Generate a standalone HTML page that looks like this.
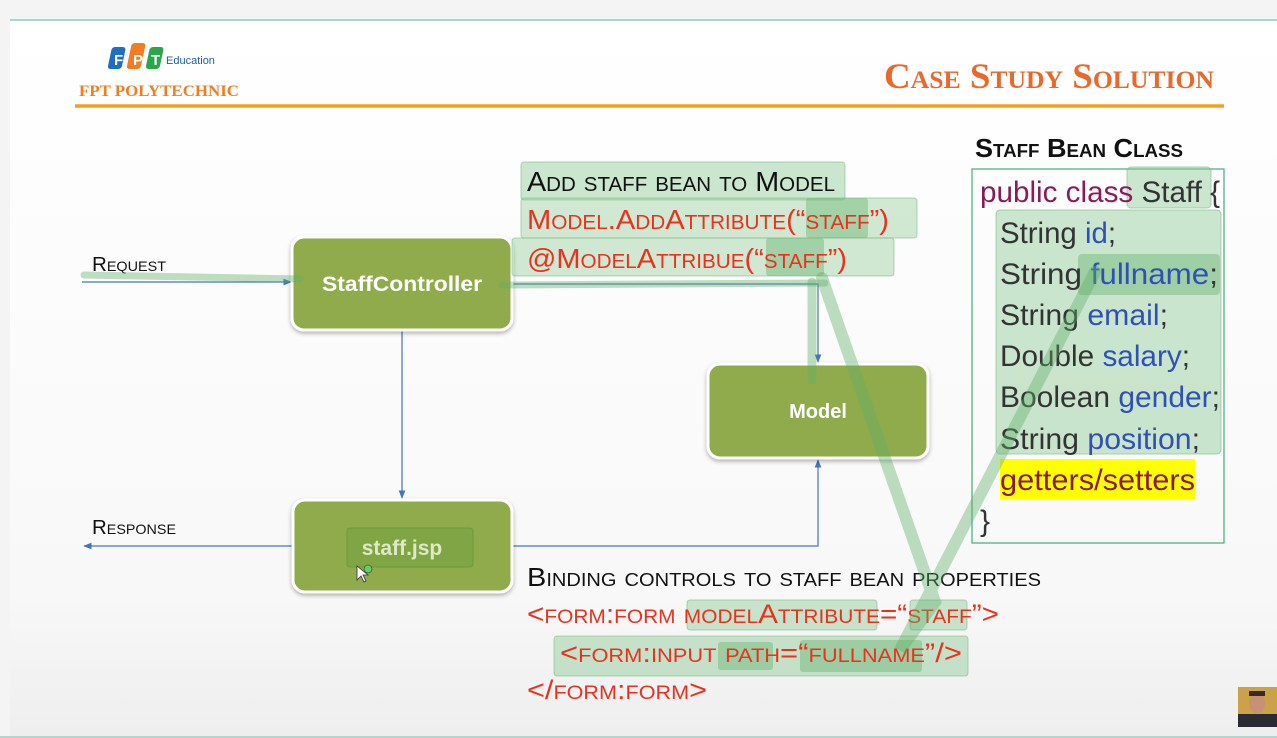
<!DOCTYPE html>
<html><head><meta charset="utf-8"><style>
html,body{margin:0;padding:0;background:#f4f4f4;}
svg{display:block;}
.sc{font-variant:small-caps;}
</style></head><body>
<svg width="1277" height="738" viewBox="0 0 1277 738" xmlns="http://www.w3.org/2000/svg" font-family="Liberation Sans, sans-serif">
<defs>
<linearGradient id="bg" x1="0" y1="0" x2="0" y2="1">
<stop offset="0" stop-color="#ffffff"/><stop offset="0.8" stop-color="#f8f8f8"/><stop offset="1" stop-color="#eeeeee"/>
</linearGradient>
<marker id="ar" viewBox="0 0 10 10" refX="9" refY="5" markerWidth="7" markerHeight="7" orient="auto"><path d="M0,1 L10,5 L0,9 z" fill="#4472c4"/></marker>
<filter id="sh" x="-10%" y="-10%" width="120%" height="130%"><feDropShadow dx="0" dy="2" stdDeviation="2" flood-color="#000" flood-opacity="0.3"/></filter>
</defs>
<rect x="0" y="0" width="1277" height="738" fill="#f4f4f4"/>
<rect x="10" y="20" width="1267" height="716" fill="url(#bg)"/>
<line x1="10" y1="20" x2="1277" y2="20" stroke="#8ccbc4" stroke-width="1.5"/>
<line x1="0" y1="737" x2="1277" y2="737" stroke="#b9d3cc" stroke-width="2"/>

<!-- logo -->
<g transform="skewX(-12)">
<rect x="122" y="47" width="14" height="22" rx="3" fill="#1f6fc0"/>
<rect x="141" y="43" width="14" height="26" rx="3" fill="#f07d22"/>
<rect x="160" y="47" width="14" height="22" rx="3" fill="#2aa54a"/>
</g>
<text x="114" y="65" font-size="15" font-weight="bold" fill="#fff">F</text>
<text x="133" y="65" font-size="15" font-weight="bold" fill="#fff">P</text>
<text x="151" y="65" font-size="15" font-weight="bold" fill="#fff">T</text>
<text x="166" y="64" font-size="11" fill="#1f5fa8">Education</text>
<text x="79" y="96" font-family="Liberation Serif, serif" font-size="16" font-weight="bold" fill="#f07d22" textLength="160" lengthAdjust="spacingAndGlyphs">FPT POLYTECHNIC</text>
<line x1="75" y1="106" x2="1224" y2="106" stroke="#f4a01c" stroke-width="3.5"/>
<text x="884" y="88" font-family="Liberation Serif, serif" font-weight="bold" font-size="36" fill="#e8692c" class="sc" textLength="330" lengthAdjust="spacingAndGlyphs">Case Study Solution</text>

<!-- blue connectors -->
<line x1="82" y1="282" x2="291" y2="282" stroke="#4472c4" stroke-width="1.2" marker-end="url(#ar)"/>
<line x1="292" y1="546" x2="84" y2="546" stroke="#4472c4" stroke-width="1.2" marker-end="url(#ar)"/>
<line x1="402" y1="331" x2="402" y2="498" stroke="#4472c4" stroke-width="1.2" marker-end="url(#ar)"/>
<polyline points="512,284 818,284 818,362" fill="none" stroke="#4472c4" stroke-width="1.2" marker-end="url(#ar)"/>
<polyline points="512,546 818,546 818,460" fill="none" stroke="#4472c4" stroke-width="1.2" marker-end="url(#ar)"/>

<!-- boxes -->
<g filter="url(#sh)">
<rect x="292" y="237" width="220" height="93" rx="12" fill="#8fab4b" stroke="#fff" stroke-width="3"/>
<rect x="708" y="364" width="220" height="94" rx="12" fill="#8fab4b" stroke="#fff" stroke-width="3"/>
<rect x="293" y="500" width="219" height="92" rx="12" fill="#8fab4b" stroke="#fff" stroke-width="3"/>
</g>
<text x="402" y="291" font-size="21" font-weight="bold" fill="#fff" text-anchor="middle" textLength="160" lengthAdjust="spacingAndGlyphs">StaffController</text>
<text x="818" y="418" font-size="20" font-weight="bold" fill="#fff" text-anchor="middle">Model</text>
<rect x="347" y="528" width="126" height="39" rx="3" fill="#7fa544" stroke="#6e9a3c" stroke-width="1"/>
<text x="402" y="555" font-size="21" font-weight="bold" fill="#dfe9c8" text-anchor="middle">staff.jsp</text>

<text x="92" y="271" font-size="20" fill="#111" class="sc" textLength="74" lengthAdjust="spacingAndGlyphs">Request</text>
<text x="92" y="534" font-size="20" fill="#111" class="sc" textLength="84" lengthAdjust="spacingAndGlyphs">Response</text>

<!-- top annotation -->
<rect x="521" y="162" width="324" height="38" rx="3" fill="#8fca94" fill-opacity="0.45" stroke="#7cbb84" stroke-opacity="0.6"/>
<rect x="521" y="198" width="396" height="40" rx="3" fill="#8fca94" fill-opacity="0.4" stroke="#7cbb84" stroke-opacity="0.6"/>
<rect x="512" y="238" width="382" height="38" rx="3" fill="#8fca94" fill-opacity="0.4" stroke="#7cbb84" stroke-opacity="0.6"/>
<rect x="806" y="198" width="62" height="40" rx="3" fill="#5fae66" fill-opacity="0.4"/>
<rect x="766" y="238" width="58" height="38" rx="3" fill="#5fae66" fill-opacity="0.4"/>
<text x="527" y="191" font-size="28" fill="#111" class="sc" textLength="308" lengthAdjust="spacingAndGlyphs">Add staff bean to Model</text>
<text x="527" y="229" font-size="28" fill="#e8321e" class="sc" textLength="362" lengthAdjust="spacingAndGlyphs">Model.AddAttribute(“staff”)</text>
<text x="527" y="268" font-size="28" fill="#e8321e" class="sc" textLength="320" lengthAdjust="spacingAndGlyphs">@ModelAttribue(“staff”)</text>

<!-- bean class -->
<text x="975" y="157" font-size="26" font-weight="bold" fill="#111" class="sc" textLength="208" lengthAdjust="spacingAndGlyphs">Staff Bean Class</text>
<rect x="972" y="169" width="252" height="374" fill="none" stroke="#3fae7a" stroke-width="1.2"/>
<rect x="1127" y="167" width="84" height="41" rx="4" fill="#8fca94" fill-opacity="0.45" stroke="#7cbb84" stroke-opacity="0.6"/>
<rect x="996" y="210" width="225" height="244" rx="4" fill="#8fca94" fill-opacity="0.45" stroke="#7cbb84" stroke-opacity="0.6"/>
<rect x="1078" y="254" width="142" height="41" rx="4" fill="#5fae66" fill-opacity="0.4"/>
<rect x="1000" y="459" width="195" height="40" fill="#ffff00"/>
<g font-size="30">
<text x="980" y="202" textLength="240" lengthAdjust="spacingAndGlyphs"><tspan fill="#8b1a5a">public class </tspan><tspan fill="#333">Staff {</tspan></text>
<text x="1000" y="243" textLength="116" lengthAdjust="spacingAndGlyphs"><tspan fill="#333">String </tspan><tspan fill="#3050b8">id</tspan><tspan fill="#333">;</tspan></text>
<text x="1000" y="284" textLength="218" lengthAdjust="spacingAndGlyphs"><tspan fill="#333">String </tspan><tspan fill="#3050b8">fullname</tspan><tspan fill="#333">;</tspan></text>
<text x="1000" y="325" textLength="168" lengthAdjust="spacingAndGlyphs"><tspan fill="#333">String </tspan><tspan fill="#3050b8">email</tspan><tspan fill="#333">;</tspan></text>
<text x="1000" y="366" textLength="190" lengthAdjust="spacingAndGlyphs"><tspan fill="#333">Double </tspan><tspan fill="#3050b8">salary</tspan><tspan fill="#333">;</tspan></text>
<text x="1000" y="407" textLength="220" lengthAdjust="spacingAndGlyphs"><tspan fill="#333">Boolean </tspan><tspan fill="#3050b8">gender</tspan><tspan fill="#333">;</tspan></text>
<text x="1000" y="449" textLength="200" lengthAdjust="spacingAndGlyphs"><tspan fill="#333">String </tspan><tspan fill="#3050b8">position</tspan><tspan fill="#333">;</tspan></text>
<text x="1000" y="490" fill="#8b1a3a" textLength="195" lengthAdjust="spacingAndGlyphs">getters/setters</text>
<text x="980" y="531" fill="#333">}</text>
</g>

<!-- bottom annotation -->
<rect x="687" y="600" width="190" height="30" rx="3" fill="#8fca94" fill-opacity="0.45" stroke="#7cbb84" stroke-opacity="0.6"/>
<rect x="910" y="600" width="57" height="30" rx="3" fill="#8fca94" fill-opacity="0.45" stroke="#7cbb84" stroke-opacity="0.6"/>
<rect x="554" y="636" width="414" height="40" rx="3" fill="#8fca94" fill-opacity="0.45" stroke="#7cbb84" stroke-opacity="0.6"/>
<rect x="718" y="642" width="55" height="28" rx="3" fill="#5fae66" fill-opacity="0.4"/>
<rect x="800" y="640" width="122" height="32" rx="3" fill="#5fae66" fill-opacity="0.4"/>
<text x="527" y="586" font-size="26" fill="#111" class="sc" textLength="514" lengthAdjust="spacingAndGlyphs">Binding controls to staff bean properties</text>
<text x="527" y="623" font-size="27" fill="#e8321e" class="sc" textLength="472" lengthAdjust="spacingAndGlyphs">&lt;form:form modelAttribute=“staff”&gt;</text>
<text x="560" y="662" font-size="27" fill="#e8321e" class="sc" textLength="402" lengthAdjust="spacingAndGlyphs">&lt;form:input path=“fullname”/&gt;</text>
<text x="527" y="699" font-size="27" fill="#e8321e" class="sc" textLength="180" lengthAdjust="spacingAndGlyphs">&lt;/form:form&gt;</text>

<!-- green highlight strokes -->
<g stroke="#5fae66" stroke-opacity="0.4" fill="none" stroke-linecap="round">
<line x1="84" y1="275" x2="300" y2="279" stroke-width="7"/>
<line x1="502" y1="285" x2="825" y2="283" stroke-width="7"/>
<line x1="812" y1="282" x2="812" y2="380" stroke-width="9"/>
<polyline points="822,278 935,602 900,650 1095,272" stroke-width="12"/>
</g>

<!-- cursor -->
<path d="M357,566 L357,580 L361,576 L364,582 L366,581 L363,575 L368,575 z" fill="#fff" stroke="#333" stroke-width="0.8"/>
<circle cx="368" cy="569" r="4" fill="#6c6" stroke="#333" stroke-width="0.6"/>

<!-- avatar -->
<rect x="1238" y="687" width="39" height="40" fill="#c9a24a"/>
<rect x="1238" y="714" width="39" height="13" fill="#2a2a33"/>
<ellipse cx="1257" cy="703" rx="8" ry="10" fill="#c89074"/>
<rect x="1249" y="691" width="16" height="5" fill="#3a2a22"/>
</svg>
</body></html>
